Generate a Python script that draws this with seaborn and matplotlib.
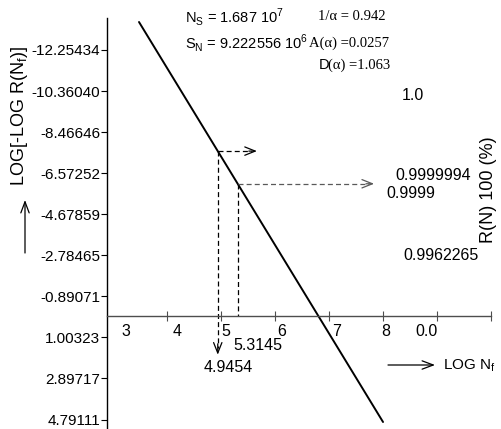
import numpy as np
import matplotlib
matplotlib.use('Agg')
import matplotlib.pyplot as plt
import seaborn as sns

# Weibull line: LOG N_f against LOG[-LOG R(N_f)]
line_x = [3.487, 8.006]
line_y = [-13.545, 4.905]

y_ticks = [-12.25434, -10.36040, -8.46646, -6.57252, -4.67859,
           -2.78465, -0.89071, 1.00323, 2.89717, 4.79111]
x_ticks = [4, 5, 6, 7, 8, 9, 10]
x_labels = ['3', '4', '5', '6', '7', '8', '0.0']

# read-off values on the line
read_x = [4.9454, 5.3145]
read_labels = ['4.9454', '5.3145']
arrow_ends = [5.67, 7.84]
drop_end = 1.8

rel_labels = ['1.0', '0.9999994', '0.9999', '0.9962265']

W, H = 502, 429


def P(x, y):
    # pixel position -> axes fraction (axes fill the whole figure)
    return (x / W, 1 - y / H)


sns.set_style('ticks')
plt.rcParams['font.family'] = ['Liberation Sans', 'DejaVu Sans']
plt.rcParams['text.color'] = 'black'

fig = plt.figure(figsize=(W / 100, H / 100), dpi=100)
ax = fig.add_axes([0, 0, 1, 1])

sns.lineplot(x=line_x, y=line_y, color='black', lw=1.4, ax=ax)
ax.set_xlim(0.913, 10.209)
ax.set_ylim(5.228, -14.560)

ax.spines['top'].set_visible(False)
ax.spines['right'].set_visible(False)
ax.spines['left'].set_position(('data', 2.9))
ax.spines['left'].set_bounds(-13.73, 5.228)
ax.spines['left'].set_color('black')
ax.spines['bottom'].set_position(('data', 0))
ax.spines['bottom'].set_bounds(2.9, 10)
ax.spines['bottom'].set_color('0.3')
ax.spines['left'].set_linewidth(1.0)
ax.spines['bottom'].set_linewidth(1.0)

ax.set_yticks(y_ticks)
ax.set_yticklabels([f'{v:.5f}' for v in y_ticks])
ax.tick_params(axis='y', direction='out', length=4, width=0.8, pad=1,
               labelsize=11, colors='black')
ax.set_xticks(x_ticks)
ax.set_xticklabels([])
ax.tick_params(axis='x', direction='inout', length=7, width=0.8, color='0.3')

# x tick labels sit a bit right of their ticks
x_label_px = [126, 177, 226, 282, 337, 386, 427]
for lab, xp in zip(x_labels, x_label_px):
    ax.text(*P(xp, 331), lab, transform=ax.transAxes, fontsize=11.5,
            ha='center', va='center')

# dashed read-off lines
y_hit = np.interp(read_x, line_x, line_y)
dash = dict(ls=(0, (4, 2.5)), lw=0.9)
ax.plot([read_x[0], read_x[0]], [y_hit[0], drop_end - 0.3], color='black', **dash)
ax.plot([read_x[1], read_x[1]], [y_hit[1], 0], color='black', **dash)
ax.plot([read_x[0], arrow_ends[0] - 0.1], [y_hit[0], y_hit[0]], color='black', **dash)
ax.plot([read_x[1], arrow_ends[1] - 0.1], [y_hit[1], y_hit[1]], color='0.35', **dash)

head = dict(arrowstyle='->,head_length=0.75,head_width=0.3', lw=0.9,
            shrinkA=0, shrinkB=0, mutation_scale=10)
ax.annotate('', xy=(read_x[0], drop_end), xytext=(read_x[0], drop_end - 0.5),
            arrowprops=dict(color='black', **head))
ax.annotate('', xy=(arrow_ends[0], y_hit[0]), xytext=(arrow_ends[0] - 0.15, y_hit[0]),
            arrowprops=dict(color='black', **head))
ax.annotate('', xy=(arrow_ends[1], y_hit[1]), xytext=(arrow_ends[1] - 0.15, y_hit[1]),
            arrowprops=dict(color='0.35', **head))

ax.text(*P(258, 346), read_labels[1], transform=ax.transAxes, fontsize=11.5,
        ha='center', va='center')
ax.text(*P(228, 368), read_labels[0], transform=ax.transAxes, fontsize=11.5,
        ha='center', va='center')

# axis titles with arrows
ax.text(*P(20, 116), 'LOG[-LOG R(N$_\\mathregular{f}$)]', transform=ax.transAxes,
        fontsize=13, rotation=90, ha='center', va='center')
ax.annotate('', xy=P(25, 200), xytext=P(25, 253), xycoords='axes fraction',
            arrowprops=dict(arrowstyle='->,head_length=0.8,head_width=0.3', lw=0.9,
                            color='black', shrinkA=0, shrinkB=0, mutation_scale=10))
ax.annotate('', xy=P(435, 365), xytext=P(388, 365), xycoords='axes fraction',
            arrowprops=dict(arrowstyle='->,head_length=0.8,head_width=0.3', lw=0.9,
                            color='black', shrinkA=0, shrinkB=0, mutation_scale=10))
ax.text(*P(443, 366), 'LOG N$_\\mathregular{f}$', transform=ax.transAxes,
        fontsize=11, ha='left', va='center')

ax.text(*P(489, 190), 'R(N) 100 (%)', transform=ax.transAxes, fontsize=13,
        rotation=90, ha='center', va='center')

# reliability values
rel_px = [(413, 96), (433, 176), (411, 194), (441, 255)]
for lab, (xp, yp) in zip(rel_labels, rel_px):
    ax.text(*P(xp, yp), lab, transform=ax.transAxes, fontsize=11.5,
            ha='center', va='center')

# parameters block
ax.text(*P(185, 17), 'N$_\\mathregular{S}$ = 1.687 10$^\\mathregular{7}$',
        transform=ax.transAxes, fontsize=10.5, ha='left', va='center')
ax.text(*P(185, 43), 'S$_\\mathregular{N}$ = 9.222556 10$^\\mathregular{6}$',
        transform=ax.transAxes, fontsize=10.5, ha='left', va='center')
serif = ['Liberation Serif', 'DejaVu Serif']
ax.text(*P(386, 17), '1/\u03b1 = 0.942', transform=ax.transAxes, fontsize=10.5,
        family=serif, ha='right', va='center')
ax.text(*P(309, 43), 'A(\u03b1) =0.0257', transform=ax.transAxes, fontsize=10.5,
        family=serif, ha='left', va='center')
ax.text(*P(390, 65), '(\u03b1) =1.063', transform=ax.transAxes, fontsize=10.5,
        family=serif, ha='right', va='center')
ax.text(*P(329, 65), 'D', transform=ax.transAxes, fontsize=10.5,
        ha='right', va='center')

fig.savefig('out.png', dpi=100, facecolor='white')
